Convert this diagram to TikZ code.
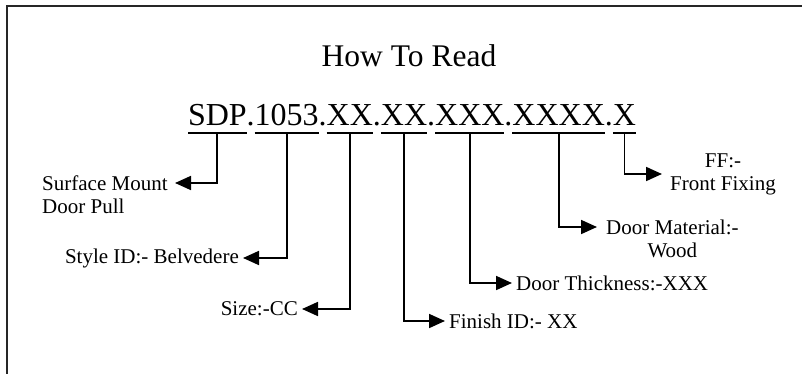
\documentclass[tikz,border=0pt]{standalone}
\usepackage{fontspec}
\setmainfont{Liberation Serif}
\usetikzlibrary{arrows.meta}
\begin{document}
\begin{tikzpicture}[x=1pt,y=1pt,
  seg/.style={inner sep=0pt, outer sep=0pt, anchor=base west, font=\fontsize{32}{36}\selectfont, text height=22pt, text depth=7pt},
  uline/.style={line width=1.7pt},
  conn/.style={line width=1.8pt, -{Triangle[length=16pt,width=14pt]}},
  lbl/.style={inner sep=0pt, font=\fontsize{21}{23}\selectfont},
  frame/.style={line width=2.2pt, black!85}
]
\useasboundingbox (0,0) rectangle (802,-374);
\draw[frame] (7,-374) -- (7,-6) -- (802,-6);
\node[inner sep=0pt, anchor=base, font=\fontsize{31.5}{34}\selectfont] (title) at (409,-67) {How To Read};
% code
\node[seg] (s1) at (188,-126) {SDP};
\node[seg] (d1) at (s1.base east) {.};
\node[seg] (s2) at (d1.base east) {1053};
\node[seg] (d2) at (s2.base east) {.};
\node[seg] (s3) at (d2.base east) {XX};
\node[seg] (d3) at (s3.base east) {.};
\node[seg] (s4) at (d3.base east) {XX};
\node[seg] (d4) at (s4.base east) {.};
\node[seg] (s5) at (d4.base east) {XXX};
\node[seg] (d5) at (s5.base east) {.};
\node[seg] (s6) at (d5.base east) {XXXX};
\node[seg] (d6) at (s6.base east) {.};
\node[seg] (s7) at (d6.base east) {X};
\foreach \s in {s1,s2,s3,s4,s5,s6,s7}
  \draw[uline] (\s.south west) -- (\s.south east);
% labels
\node[lbl, anchor=north west, align=left] (l1) at (42,-176) {Surface Mount\\Door Pull};
\coordinate (c1) at (175,-183);
\draw[conn] (s1.south) |- (c1);
\node[lbl, anchor=east] (l2) at (239,-258) {Style ID:- Belvedere};
\draw[conn, shorten >=4pt] (s2.south) |- (l2.east);
\node[lbl, anchor=east] (l3) at (298,-309) {Size:-CC};
\draw[conn, shorten >=4pt] (s3.south) |- (l3.east);
\node[lbl, anchor=west] (l4) at (449,-321) {Finish ID:- XX};
\draw[conn, shorten >=4pt] (s4.south) |- (l4.west);
\node[lbl, anchor=west] (l5) at (516,-283) {Door Thickness:-XXX};
\draw[conn, shorten >=4pt] (s5.south) |- (l5.west);
\node[lbl, anchor=north west, align=center] (l6) at (606,-219.5) {Door Material:-\\Wood};
\coordinate (c6) at (597,-227);
\draw[conn] (s6.south) |- (c6);
\node[lbl, anchor=west, align=center] (l7) at (670,-174) {FF:-\\Front Fixing};
\draw[conn, shorten >=8pt] (s7.south) |- (l7.west);
\end{tikzpicture}
\end{document}
